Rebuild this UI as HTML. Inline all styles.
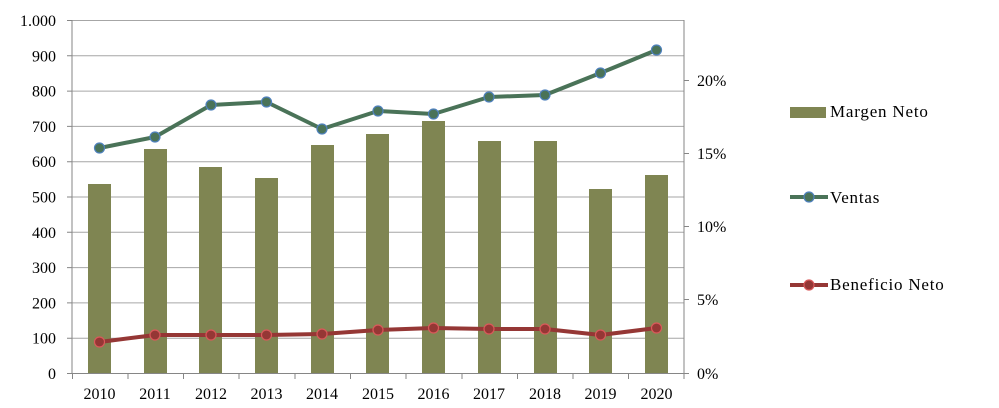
<!DOCTYPE html>
<html><head><meta charset="utf-8"><style>
html,body{margin:0;padding:0;background:#fff;}
svg{display:block;}
text{font-family:"Liberation Serif",serif;font-size:16px;fill:#000;}
text.lg{font-size:17px;letter-spacing:0.8px;}
</style></head><body>
<svg width="999" height="408" viewBox="0 0 999 408">
<g stroke="#a6a6a6" stroke-width="1">
<line x1="72" y1="20.5" x2="684" y2="20.5"/>
<line x1="72" y1="55.8" x2="684" y2="55.8"/>
<line x1="72" y1="91.1" x2="684" y2="91.1"/>
<line x1="72" y1="126.4" x2="684" y2="126.4"/>
<line x1="72" y1="161.7" x2="684" y2="161.7"/>
<line x1="72" y1="197" x2="684" y2="197"/>
<line x1="72" y1="232.3" x2="684" y2="232.3"/>
<line x1="72" y1="267.6" x2="684" y2="267.6"/>
<line x1="72" y1="302.9" x2="684" y2="302.9"/>
<line x1="72" y1="338.2" x2="684" y2="338.2"/>
</g>
<g fill="#7f8552">
<rect x="88" y="184" width="23" height="189"/>
<rect x="144" y="149" width="23" height="224"/>
<rect x="199" y="167" width="23" height="206"/>
<rect x="255" y="178" width="23" height="195"/>
<rect x="311" y="145" width="23" height="228"/>
<rect x="366" y="134" width="23" height="239"/>
<rect x="422" y="121" width="23" height="252"/>
<rect x="478" y="141" width="23" height="232"/>
<rect x="534" y="141" width="23" height="232"/>
<rect x="589" y="189" width="23" height="184"/>
<rect x="645" y="175" width="23" height="198"/>
</g>
<g stroke="#868686" stroke-width="1" fill="none">
<line x1="72" y1="20" x2="72" y2="373.5"/>
<line x1="684" y1="20" x2="684" y2="373.5"/>
<line x1="67" y1="373.5" x2="689" y2="373.5"/>
<path d="M67 20.5H72M67 55.8H72M67 91.1H72M67 126.4H72M67 161.7H72M67 197H72M67 232.3H72M67 267.6H72M67 302.9H72M67 338.2H72"/>
<path d="M684 80.5H689M684 153.5H689M684 226.5H689M684 299.5H689"/>
<path d="M72.5 373V379M128 373V379M183.5 373V379M239 373V379M295 373V379M350.5 373V379M406 373V379M462 373V379M517.5 373V379M573 373V379M628.5 373V379M684 373V379"/>
</g>
<polyline fill="none" stroke="#4a7358" stroke-width="4" stroke-linejoin="round" points="99.5,148 155,137 211,105 266.5,102 322,129 378,111 433.5,114 489,97 545,95 600.5,73 656.5,50"/>
<g fill="#4a7358" stroke="#4f81bd" stroke-width="1.2">
<circle cx="99.5" cy="148" r="5"/><circle cx="155" cy="137" r="5"/><circle cx="211" cy="105" r="5"/><circle cx="266.5" cy="102" r="5"/><circle cx="322" cy="129" r="5"/><circle cx="378" cy="111" r="5"/><circle cx="433.5" cy="114" r="5"/><circle cx="489" cy="97" r="5"/><circle cx="545" cy="95" r="5"/><circle cx="600.5" cy="73" r="5"/><circle cx="656.5" cy="50" r="5"/>
</g>
<polyline fill="none" stroke="#953735" stroke-width="4" stroke-linejoin="round" points="99.5,342 155,335 211,335 266.5,335 322,334 378,330 433.5,328 489,329 545,329 600.5,335 656.5,328"/>
<g fill="#953735" stroke="#d9595a" stroke-width="1.2">
<circle cx="99.5" cy="342" r="5"/><circle cx="155" cy="335" r="5"/><circle cx="211" cy="335" r="5"/><circle cx="266.5" cy="335" r="5"/><circle cx="322" cy="334" r="5"/><circle cx="378" cy="330" r="5"/><circle cx="433.5" cy="328" r="5"/><circle cx="489" cy="329" r="5"/><circle cx="545" cy="329" r="5"/><circle cx="600.5" cy="335" r="5"/><circle cx="656.5" cy="328" r="5"/>
</g>
<g text-anchor="end">
<text x="56" y="26">1.000</text><text x="56" y="61.3">900</text><text x="56" y="96.6">800</text><text x="56" y="131.9">700</text><text x="56" y="167.2">600</text><text x="56" y="202.5">500</text><text x="56" y="237.8">400</text><text x="56" y="273.1">300</text><text x="56" y="308.4">200</text><text x="56" y="343.7">100</text><text x="56" y="379">0</text>
</g>
<g>
<text x="697" y="86">20%</text><text x="697" y="159">15%</text><text x="697" y="232">10%</text><text x="697" y="305">5%</text><text x="697" y="379">0%</text>
</g>
<g text-anchor="middle">
<text x="99.5" y="399">2010</text><text x="155" y="399">2011</text><text x="211" y="399">2012</text><text x="266.5" y="399">2013</text><text x="322" y="399">2014</text><text x="378" y="399">2015</text><text x="433.5" y="399">2016</text><text x="489" y="399">2017</text><text x="545" y="399">2018</text><text x="600.5" y="399">2019</text><text x="656.5" y="399">2020</text>
</g>
<rect x="790" y="107" width="36" height="11" fill="#7f8552"/>
<text class="lg" x="830" y="117">Margen Neto</text>
<line x1="790" y1="197" x2="828" y2="197" stroke="#4a7358" stroke-width="4"/>
<circle cx="809" cy="197" r="5" fill="#4a7358" stroke="#4f81bd" stroke-width="1.2"/>
<text class="lg" x="830" y="203">Ventas</text>
<line x1="790" y1="285" x2="828" y2="285" stroke="#953735" stroke-width="4"/>
<circle cx="809" cy="285" r="5" fill="#953735" stroke="#d9595a" stroke-width="1.2"/>
<text class="lg" x="830" y="290">Beneficio Neto</text>
</svg>
</body></html>
